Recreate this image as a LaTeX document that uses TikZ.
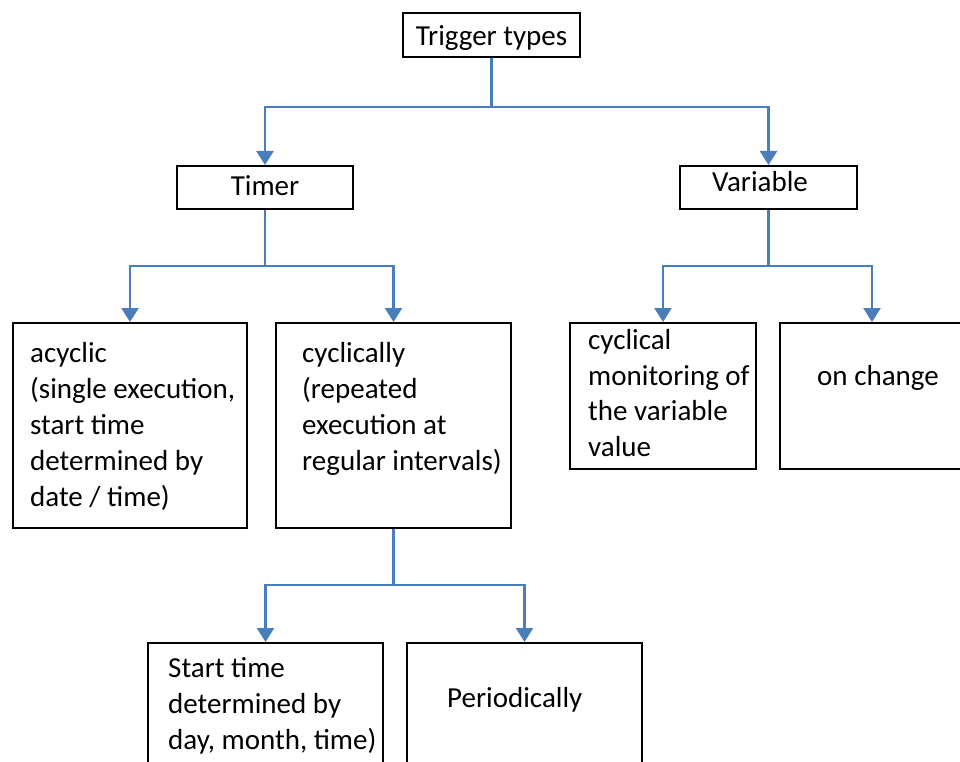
\documentclass[tikz,border=0pt]{standalone}
\usepackage{fontspec}
\setmainfont{Carlito}
\usetikzlibrary{arrows.meta}
\definecolor{conncol}{HTML}{4A7EBB}
\begin{document}
\begin{tikzpicture}[x=1pt,y=-1pt,
  box/.style={draw=black,line width=2pt,inner sep=0pt,rectangle},
  link/.style={draw=conncol,line width=2.5pt},
  arr/.style={link,-{Triangle[width=17pt,length=14pt]}},
  txt/.style={anchor=base west,inner sep=0pt,font=\fontsize{29}{36}\selectfont},
  ctxt/.style={anchor=base,inner sep=0pt,font=\fontsize{29}{36}\selectfont}]
\useasboundingbox (0,0) rectangle (960,762);

% boxes
\node[box,minimum width=177pt,minimum height=44pt] (trig) at (491.5,35) {};
\node[box,minimum width=176pt,minimum height=43pt] (timer) at (265,187.5) {};
\node[box,minimum width=177pt,minimum height=43pt] (var) at (768.5,187.5) {};
\node[box,minimum width=234pt,minimum height=205pt] (acyc) at (130,425.5) {};
\node[box,minimum width=235pt,minimum height=205pt] (cyc) at (393.5,425.5) {};
\node[box,minimum width=186pt,minimum height=146pt] (mon) at (663,396) {};
\node[box,minimum width=184pt,minimum height=146pt] (chg) at (872,396) {};
\node[box,minimum width=235pt,minimum height=147pt] (start) at (265.5,716.5) {};
\node[box,minimum width=235pt,minimum height=147pt] (per) at (524.5,716.5) {};

% junctions
\coordinate (j1) at (491.5,107);
\coordinate (j2) at (265,266);
\coordinate (j3) at (768.5,266);
\coordinate (j4) at (393.5,585);

% connectors
\draw[link] (trig.south) -- (j1);
\draw[arr] (j1) -| (timer.north);
\draw[arr] (j1) -| (var.north);
\draw[link] (timer.south) -- (j2);
\draw[arr] (j2) -| (acyc.north);
\draw[arr] (j2) -| (cyc.north);
\draw[link] (var.south) -- (j3);
\draw[arr] (j3) -| (mon.north);
\draw[arr] (j3) -| (chg.north);
\draw[link] (cyc.south) -- (j4);
\draw[arr] (j4) -| (start.north);
\draw[arr] (j4) -| (per.north);

% texts
\node[ctxt] (tTrig) at (491.5,46) {Trigger types};
\node[ctxt] (tTimer) at (265,195) {Timer};
\node[ctxt] (tVar) at (760,191) {Variable};

\node[txt] (a1) at (30,362) {acyclic};
\node[txt] (a2) at (30,398) {(single execution,};
\node[txt] (a3) at (30,434) {start time};
\node[txt] (a4) at (30,470) {determined by};
\node[txt] (a5) at (30,506) {date / time)};

\node[txt] (c1) at (302,362) {cyclically};
\node[txt] (c2) at (302,398) {(repeated};
\node[txt] (c3) at (302,434) {execution at};
\node[txt] (c4) at (302,470) {regular intervals)};

\node[txt] (m1) at (588,349) {cyclical};
\node[txt] (m2) at (588,385) {monitoring of};
\node[txt] (m3) at (588,420) {the variable};
\node[txt] (m4) at (588,456) {value};

\node[txt] (o1) at (817,385) {on change};

\node[txt] (s1) at (168,677) {Start time};
\node[txt] (s2) at (168,713) {determined by};
\node[txt] (s3) at (168,749) {day, month, time)};

\node[txt] (p1) at (447,707) {Periodically};
\end{tikzpicture}
\end{document}
